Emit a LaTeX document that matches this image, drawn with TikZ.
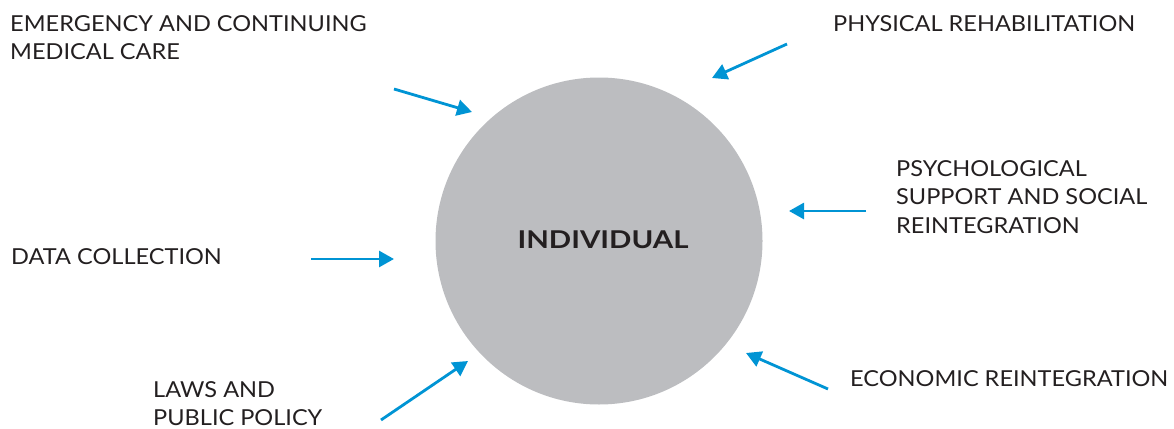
\documentclass[tikz,border=0pt]{standalone}
\usepackage{fontspec}
\setmainfont{Lato}[FakeStretch=1.07]
\newfontfamily\indfont{Lato}[FakeStretch=1.2]
\usetikzlibrary{arrows.meta}
\definecolor{arrowblue}{RGB}{0,148,212}
\definecolor{circgray}{RGB}{188,189,192}
\definecolor{txt}{RGB}{35,31,32}
\tikzset{
  lbl/.style={anchor=north west,inner sep=0pt,align=left,text=txt,
    font=\fontsize{22}{28.5}\selectfont},
  feed/.style={draw=arrowblue,line width=2.8pt,
    -{Triangle[length=15pt,width=16pt]}},
}
\begin{document}
\begin{tikzpicture}[x=1pt,y=-1pt]
\useasboundingbox (0,0) rectangle (1174,428);
\node[circle,fill=circgray,minimum size=327pt,inner sep=0pt] (ind) at (599,241) {};
\node[text=txt,font=\indfont\fontsize{24.5}{28}\bfseries\selectfont,inner sep=0pt] (indl) at (603,240) {INDIVIDUAL};

\node[lbl] (emerg) at (10,15) {EMERGENCY AND CONTINUING\\MEDICAL CARE};
\node[lbl] (phys) at (833,15) {PHYSICAL REHABILITATION};
\node[lbl] (psych) at (896,160) {PSYCHOLOGICAL\\SUPPORT AND SOCIAL\\REINTEGRATION};
\node[lbl] (data) at (11,248) {DATA COLLECTION};
\node[lbl] (laws) at (153,381) {LAWS AND\\PUBLIC POLICY};
\node[lbl] (econ) at (850,370) {ECONOMIC REINTEGRATION};

\coordinate (e1) at (394,89);  \coordinate (e2) at (472,112);
\coordinate (p1) at (787,44);  \coordinate (p2) at (712,78);
\coordinate (s1) at (866,211); \coordinate (s2) at (789,211);
\coordinate (d1) at (311,259); \coordinate (d2) at (394,259);
\coordinate (l1) at (381,420); \coordinate (l2) at (468,361);
\coordinate (c1) at (828,389); \coordinate (c2) at (746,353);

\draw[feed] (e1) -- (e2);
\draw[feed] (p1) -- (p2);
\draw[feed] (s1) -- (s2);
\draw[feed] (d1) -- (d2);
\draw[feed] (l1) -- (l2);
\draw[feed] (c1) -- (c2);
\end{tikzpicture}
\end{document}
